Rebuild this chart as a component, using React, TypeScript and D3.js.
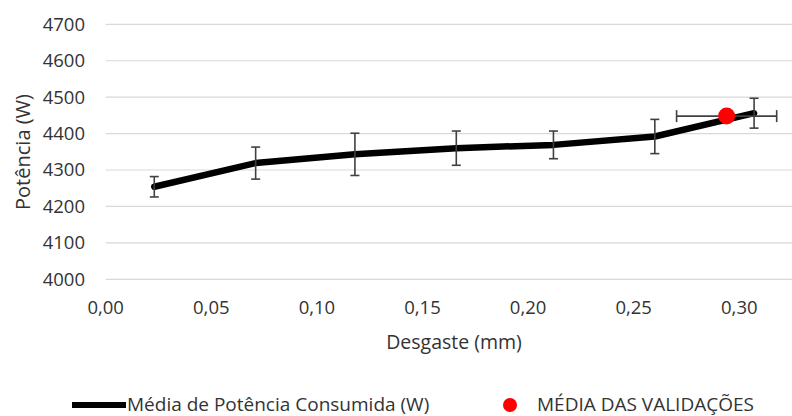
import React from 'react';
import * as d3 from 'd3';

// Média de potência consumida por desgaste
const desgaste = [0.023, 0.071, 0.118, 0.166, 0.212, 0.260, 0.307];
const potencia = [4254, 4319, 4343, 4360, 4369, 4392, 4456];
const erroPotencia = [28, 44, 58, 47, 38, 47, 41];

// Média das validações
const validacaoDesgaste = [0.294];
const validacaoPotencia = [4448];
const validacaoErroX = [0.0237];

const xTicks = [0, 0.05, 0.1, 0.15, 0.2, 0.25, 0.3];
const yTicks = [4000, 4100, 4200, 4300, 4400, 4500, 4600, 4700];

const W = 792;
const H = 416;
const FONT = '"Open Sans", sans-serif';
const TEXT = '#333333';

const App = () => {
    const x = d3.scaleLinear().domain([0, 0.35]).range([105.7, 105.7 + 0.35 * 2112]);
    const y = d3.scaleLinear().domain([4000, 4700]).range([279.3, 24.3]);

    const pts = desgaste.map((d, i) => ({ x: d, y: potencia[i], e: erroPotencia[i] }));
    const line = d3.line<any>()
        .x(d => x(d.x))
        .y(d => y(d.y))
        .curve(d3.curveLinear);

    const cap = 4.5;
    const fmt = (v: number) => v.toFixed(2).replace('.', ',');

    return (
        <svg width={W} height={H} style={{ position: 'absolute', left: 0, top: 0, background: '#fff' }}>
            {/* grid */}
            {yTicks.map(t => (
                <g key={t}>
                    <line x1={x(0)} x2={W} y1={y(t)} y2={y(t)} stroke="#d9d9d9" strokeWidth={1.2} />
                    <text x={85} y={y(t)} dy="0.35em" textAnchor="end" fontFamily={FONT} fontSize={18.5} fill={TEXT}>{t}</text>
                </g>
            ))}
            {xTicks.map(t => (
                <text key={t} x={x(t)} y={314} textAnchor="middle" fontFamily={FONT} fontSize={18.5} fill={TEXT}>{fmt(t)}</text>
            ))}

            {/* axis titles */}
            <text x={454} y={349} textAnchor="middle" fontFamily={FONT} fontSize={19.5} fill={TEXT}>Desgaste (mm)</text>
            <text transform={`translate(30,152) rotate(-90)`} textAnchor="middle" fontFamily={FONT} fontSize={20} fill={TEXT}>Potência (W)</text>

            {/* series line */}
            <path d={line(pts) || ''} fill="none" stroke="#000" strokeWidth={6.5} strokeLinejoin="round" strokeLinecap="round" />

            {/* vertical error bars */}
            {pts.map((d, i) => (
                <g key={i} stroke="#404040" strokeWidth={1.6}>
                    <line x1={x(d.x)} x2={x(d.x)} y1={y(d.y + d.e)} y2={y(d.y - d.e)} />
                    <line x1={x(d.x) - cap} x2={x(d.x) + cap} y1={y(d.y + d.e)} y2={y(d.y + d.e)} />
                    <line x1={x(d.x) - cap} x2={x(d.x) + cap} y1={y(d.y - d.e)} y2={y(d.y - d.e)} />
                </g>
            ))}

            {/* validation point with horizontal error bar */}
            {validacaoDesgaste.map((v, i) => {
                const cy = y(validacaoPotencia[i]);
                const x0 = x(v - validacaoErroX[i]);
                const x1 = x(v + validacaoErroX[i]);
                return (
                    <g key={i}>
                        <g stroke="#404040" strokeWidth={1.6}>
                            <line x1={x0} x2={x1} y1={cy} y2={cy} />
                            <line x1={x0} x2={x0} y1={cy - 6} y2={cy + 6} />
                            <line x1={x1} x2={x1} y1={cy - 6} y2={cy + 6} />
                        </g>
                        <circle cx={x(v)} cy={cy} r={8.5} fill="#ff0000" />
                    </g>
                );
            })}

            {/* legend */}
            <line x1={72} x2={126} y1={405} y2={405} stroke="#000" strokeWidth={6} />
            <text x={127} y={411} fontFamily={FONT} fontSize={19} fill={TEXT}>Média de Potência Consumida (W)</text>
            <circle cx={510} cy={405} r={7} fill="#ff0000" />
            <text x={537} y={411} fontFamily={FONT} fontSize={19} fill={TEXT}>MÉDIA DAS VALIDAÇÕES</text>
        </svg>
    );
};

export default App;
